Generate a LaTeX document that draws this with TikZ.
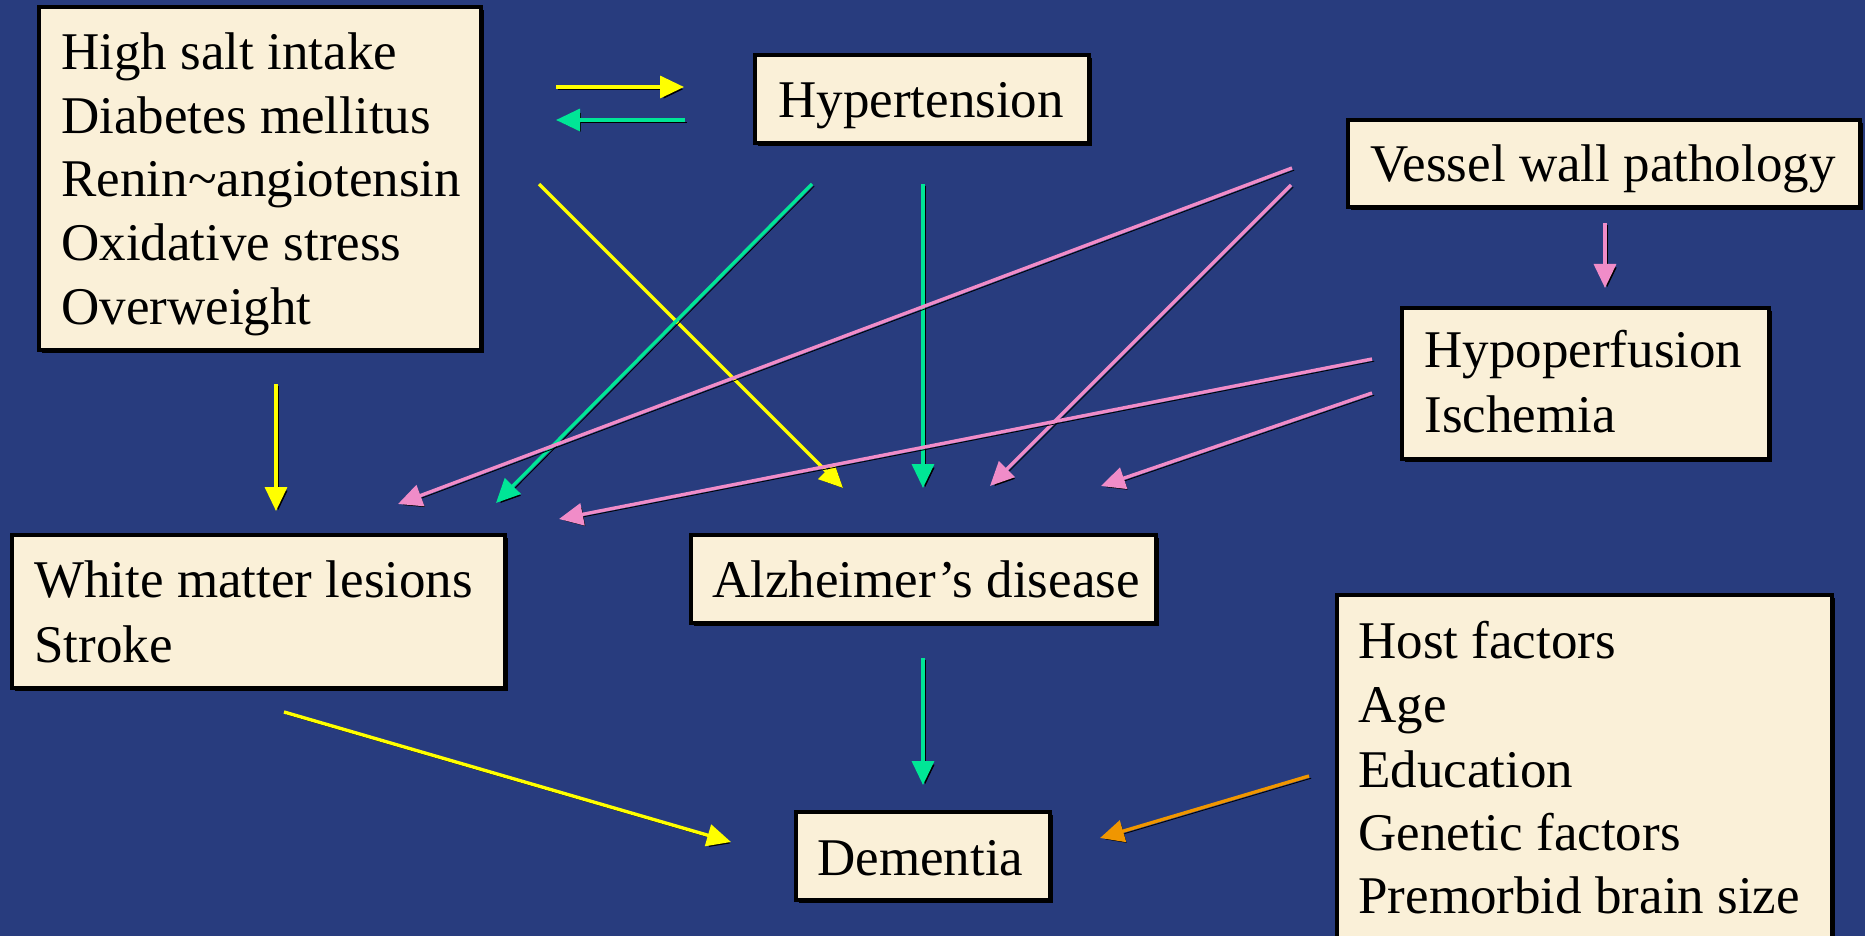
\documentclass[tikz,border=0pt]{standalone}
\usepackage{fontspec}
\setmainfont{Liberation Serif}
\usetikzlibrary{arrows.meta,calc,fit}
\definecolor{bg}{RGB}{40,60,126}
\definecolor{cream}{RGB}{250,240,216}
\definecolor{ayel}{RGB}{255,255,0}
\definecolor{agrn}{RGB}{0,230,150}
\definecolor{apnk}{RGB}{240,140,200}
\definecolor{aorg}{RGB}{240,150,0}
\tikzset{
 box/.style={draw=black, line width=1.9pt, fill=cream, inner sep=0pt,
   preaction={fill=black, transform canvas={shift={(1.6pt,-1.6pt)}}}},
 txt/.style={anchor=base west, inner sep=0pt, font=\fontsize{26.5}{32}\selectfont, text=black},
 conn/.style={line width=1.7pt, -{Triangle[length=12pt,width=11pt]},
   preaction={draw=black, transform canvas={shift={(1.1pt,-1.1pt)}}}},
}
\begin{document}
\begin{tikzpicture}[x=0.5pt,y=-0.5pt]
\useasboundingbox (0,0) rectangle (1865,936);
\fill[bg] (0,0) rectangle (1865,936);
\clip (0,0) rectangle (1865,936);

% boxes
\node[box, fit={(39,7) (481,350)}] (risk) {};
\node[box, fit={(755,55) (1089,143)}] (hyp) {};
\node[box, fit={(1348,120) (1860,207)}] (vessel) {};
\node[box, fit={(1402,308) (1769,459)}] (hypo) {};
\node[box, fit={(12,535) (505,688)}] (wml) {};
\node[box, fit={(691,535) (1156,623)}] (alz) {};
\node[box, fit={(796,812) (1050,900)}] (dem) {};
\node[box, fit={(1337,595) (1832,960)}] (host) {};

% texts
\node[txt] (r1) at (61,70) {High salt intake};
\node[txt] (r2) at (61,134) {Diabetes mellitus};
\node[txt] (r3) at (61,197) {Renin\char`\~angiotensin};
\node[txt] (r4) at (61,261) {Oxidative stress};
\node[txt] (r5) at (61,325) {Overweight};
\node[txt] (t-hyp) at (778,118) {Hypertension};
\node[txt] (t-ves) at (1370,182) {Vessel wall pathology};
\node[txt] (h1) at (1424,368) {Hypoperfusion};
\node[txt] (h2) at (1424,433) {Ischemia};
\node[txt] (w1) at (34,597) {White matter lesions};
\node[txt] (w2) at (34,662) {Stroke};
\node[txt] (t-alz) at (712,597) {Alzheimer’s disease};
\node[txt] (t-dem) at (817,875) {Dementia};
\node[txt] (f1) at (1358,658) {Host factors};
\node[txt] (f2) at (1358,722) {Age};
\node[txt] (f3) at (1358,787) {Education};
\node[txt] (f4) at (1358,850) {Genetic factors};
\node[txt] (f5) at (1358,913) {Premorbid brain size};

% connector end points
\coordinate (a1s) at (556,87);   \coordinate (a1e) at (684,87);
\coordinate (a2s) at (685,120);  \coordinate (a2e) at (556,120);
\coordinate (a3s) at (539,184);  \coordinate (a3e) at (843,488);
\coordinate (a4s) at (812,184);  \coordinate (a4e) at (496,503);
\coordinate (a5s) at (923,184);  \coordinate (a5e) at (923,488);
\coordinate (a6s) at (1292,168); \coordinate (a6e) at (398,504);
\coordinate (a7s) at (1291,185); \coordinate (a7e) at (990,486);
\coordinate (a8s) at (1372,359); \coordinate (a8e) at (559,519);
\coordinate (a9s) at (1372,393); \coordinate (a9e) at (1101,486);
\coordinate (a10s) at (1605,223); \coordinate (a10e) at (1605,288);
\coordinate (a11s) at (276,384); \coordinate (a11e) at (276,511);
\coordinate (a12s) at (284,712); \coordinate (a12e) at (731,842);
\coordinate (a13s) at (923,658); \coordinate (a13e) at (923,785);
\coordinate (a14s) at (1309,776); \coordinate (a14e) at (1100,838);

% connectors
\draw[conn, ayel] (a1s) -- (a1e);
\draw[conn, agrn] (a2s) -- (a2e);
\draw[conn, ayel] (a3s) -- (a3e);
\draw[conn, agrn] (a4s) -- (a4e);
\draw[conn, agrn] (a5s) -- (a5e);
\draw[conn, apnk] (a6s) -- (a6e);
\draw[conn, apnk] (a7s) -- (a7e);
\draw[conn, apnk] (a8s) -- (a8e);
\draw[conn, apnk] (a9s) -- (a9e);
\draw[conn, apnk] (a10s) -- (a10e);
\draw[conn, ayel] (a11s) -- (a11e);
\draw[conn, ayel] (a12s) -- (a12e);
\draw[conn, agrn] (a13s) -- (a13e);
\draw[conn, aorg] (a14s) -- (a14e);
\end{tikzpicture}
\end{document}
